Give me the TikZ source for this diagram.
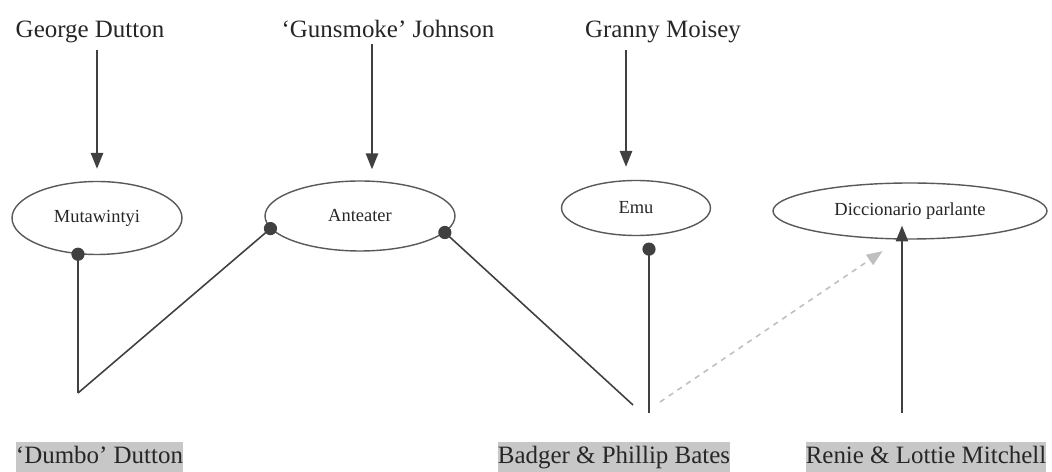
\documentclass[tikz,border=0pt]{standalone}
\usepackage{fontspec}
\setmainfont{Liberation Serif}
\usetikzlibrary{shapes.geometric,arrows.meta}
\begin{document}
\begin{tikzpicture}[x=0.02cm,y=-0.02cm,
    person/.style={text=black!85,anchor=base,font=\fontsize{14.2}{17}\selectfont},
    origin/.style={person,fill=black!22,inner sep=0pt,text height=12.8pt,text depth=5pt},
    nickname/.style={ellipse,draw=black!65,line width=.8pt,inner sep=0pt,text=black!85,font=\fontsize{10.5}{12}\selectfont},
    given/.style={draw=black!75,line width=.9pt,-{Triangle[length=9pt,width=7pt]}},
    link/.style={draw=black!75,line width=.9pt,{Circle[length=7.5pt]}-,shorten <=-3.75pt},
    guess/.style={draw=black!25,dashed,line width=.9pt,-{Triangle[length=9pt,width=7pt]}}]
    \useasboundingbox (0,0) rectangle (1052,472);

    \node[person] at (90,38) (george) {George Dutton};
    \node[person] at (388,38) (gunsmoke) {‘Gunsmoke’ Johnson};
    \node[person] at (663,38) (granny) {Granny Moisey};

    \node[nickname,minimum width=3.4cm,minimum height=1.46cm] at (97,218) (muta) {Mutawintyi};
    \node[nickname,minimum width=3.8cm,minimum height=1.4cm] at (360,216) (anteater) {Anteater};
    \node[nickname,minimum width=2.98cm,minimum height=1.1cm] at (636,208) (emu) {Emu};
    \node[nickname,minimum width=5.48cm,minimum height=1.12cm] at (910,211) (dicc) {Diccionario parlante};

    \node[origin] at (99.5,464) (dumbo) {‘Dumbo’ Dutton};
    \node[origin] at (614,464) (badger) {Badger \& Phillip Bates};
    \node[origin] at (926,464) (renie) {Renie \& Lottie Mitchell};

    \coordinate (dumboend) at (78,393);
    \coordinate (badgerend) at (633,405);
    \coordinate (batesend) at (649,413);
    \coordinate (guessfrom) at (660,402);
    \coordinate (renieend) at (902,413);

    \draw[given,shorten >=.24cm] (muta.north |- george.south) -- (muta.north);
    \draw[given,shorten >=.22cm] ([xshift=.24cm]anteater.north |- gunsmoke.south) -- ([xshift=.24cm]anteater.north);
    \draw[given,shorten >=.26cm] ([xshift=-.2cm]emu.north |- granny.south) -- ([xshift=-.2cm]emu.north);

    \draw[link] (dumboend |- muta.-118) -- (dumboend);
    \draw[link] (anteater.188) -- (dumboend);
    \draw[link] (anteater.-11) -- (badgerend);
    \draw[link,shorten <=3.6pt] (batesend |- emu.south) -- (batesend);
    \draw[guess,shorten >=.41cm] (guessfrom) -- (dicc.250);
    \draw[given,shorten >=-8pt] (renieend) -- (renieend |- dicc.south);
\end{tikzpicture}
\end{document}
